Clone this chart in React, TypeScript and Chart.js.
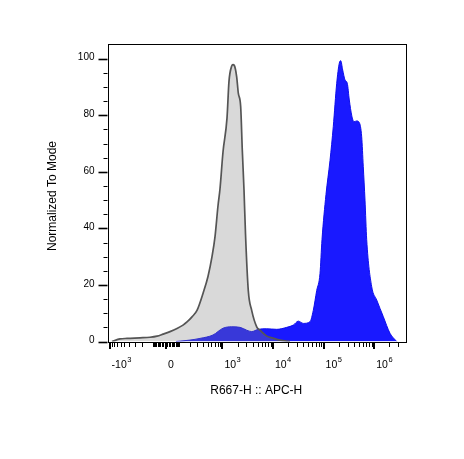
import React, { useEffect, useRef } from "react";
import { Chart, registerables } from "chart.js";

Chart.register(...registerables);

// Biexponential display: x = asinh(value / COFACTOR)
const COFACTOR = 155;
const toDisplay = (v: number) => Math.asinh(v / COFACTOR);

// Gray (control) histogram, x in display units, y = % of mode
const grayX = [-2.455, -2.091, -1.773, -1.182, -0.727, -0.409, -0.137, 0.182, 0.5, 0.773, 0.955, 1.182, 1.409, 1.682, 1.909, 2.091, 2.227, 2.364, 2.455, 2.591, 2.773, 2.863, 2.987, 3.045, 3.105, 3.213, 3.287, 3.395, 3.468, 3.546, 3.614, 3.741, 3.895, 4.123, 4.273, 4.578, 4.864, 5.181, 5.636];
const grayY = [0, 0.9, 1.1, 1.3, 1.5, 1.9, 2.6, 3.5, 4.6, 5.8, 6.9, 8.7, 11, 17, 23, 30, 37, 48, 54, 67, 79, 92, 97.4, 97.9, 97.6, 93.6, 87.8, 83, 67.7, 53.6, 38, 18, 11, 5.2, 4, 1.9, 1.2, 0.5, 0];

// Blue (stained) histogram
const blueX = [0.454, 1.091, 1.545, 2.136, 2.591, 2.987, 3.364, 3.668, 3.895, 4.195, 4.578, 5.032, 5.486, 5.786, 6.013, 6.241, 6.546, 6.695, 6.85, 7.0, 7.091, 7.273, 7.455, 7.604, 7.76, 7.877, 7.941, 8.032, 8.137, 8.241, 8.332, 8.441, 8.545, 8.668, 8.787, 8.895, 8.968, 9.046, 9.123, 9.35, 9.577, 9.877, 10.182, 10.486];
const blueY = [0, 0.5, 1.1, 2.3, 4.7, 5.2, 5, 4, 3.5, 4.3, 4.5, 4.3, 5, 5.8, 7.2, 6.4, 7, 11, 18, 24, 36, 52, 64, 76, 91.3, 98.4, 99.3, 96, 92.5, 91.3, 85.4, 80, 77.7, 78, 77.4, 72.4, 61.8, 50, 36, 19.4, 14.7, 8.8, 2.9, 0];

// Axis ticks
const xMajorValues = [-1000, 0, 1000, 10000, 100000, 1000000];
const xMajorBase = ["-10", "0", "10", "10", "10", "10"];
const xMajorExp = ["3", "", "3", "4", "5", "6"];
const yMajorValues = [0, 20, 40, 60, 80, 100];
const yMinorStep = 5;

const X_MIN = -2.659;
const X_MAX = 10.864;
const Y_MAX = 105.2;

const xTitle = "R667-H :: APC-H";
const yTitle = "Normalized To Mode";

function minorXValues(): number[] {
  const out: number[] = [];
  for (let k = 1; k <= 9; k++) {
    out.push(k * 10, -k * 10);
    out.push(k * 100, -k * 100);
  }
  for (const d of [1000, 10000, 100000, 1000000]) {
    for (let k = 2; k <= 9; k++) out.push(k * d);
  }
  return out;
}

const FONT = "'Liberation Sans', Arial, sans-serif";

const axesPlugin = {
  id: "flowAxes",
  afterDraw(chart: any) {
    const { ctx, chartArea } = chart;
    const xs = chart.scales.x;
    const ys = chart.scales.y;
    const { left, right, top, bottom } = chartArea;
    ctx.save();
    ctx.strokeStyle = "#000";
    ctx.fillStyle = "#000";
    // frame
    ctx.lineWidth = 1;
    ctx.strokeRect(Math.round(left) + 0.5, Math.round(top) + 0.5, Math.round(right - left), Math.round(bottom - top));

    // y ticks
    for (let v = 0; v <= 100; v += yMinorStep) {
      const py = Math.round(ys.getPixelForValue(v)) + 0.5;
      const major = yMajorValues.includes(v);
      ctx.lineWidth = major ? 1.6 : 1;
      ctx.beginPath();
      ctx.moveTo(left - (major ? 9 : 4), py);
      ctx.lineTo(left, py);
      ctx.stroke();
    }
    ctx.font = `10px ${FONT}`;
    ctx.textAlign = "right";
    ctx.textBaseline = "middle";
    for (const v of yMajorValues) {
      ctx.fillText(String(v), left - 13, ys.getPixelForValue(v) - 1);
    }

    // x ticks
    const b = Math.round(bottom);
    for (const v of minorXValues()) {
      const px = Math.round(xs.getPixelForValue(toDisplay(v))) + 0.5;
      if (px < left || px > right) continue;
      ctx.lineWidth = 1;
      ctx.beginPath();
      ctx.moveTo(px, b);
      ctx.lineTo(px, b + 5);
      ctx.stroke();
    }
    xMajorValues.forEach((v, i) => {
      const px = xs.getPixelForValue(toDisplay(v));
      ctx.lineWidth = 2;
      ctx.beginPath();
      ctx.moveTo(Math.round(px), b);
      ctx.lineTo(Math.round(px), b + 7);
      ctx.stroke();
      // label
      ctx.textAlign = "left";
      ctx.textBaseline = "alphabetic";
      ctx.font = `10.5px ${FONT}`;
      const base = xMajorBase[i];
      const lx = px + 2;
      ctx.fillText(base, lx, 368);
      const w = ctx.measureText(base).width;
      if (xMajorExp[i]) {
        ctx.font = `7.5px ${FONT}`;
        ctx.fillText(xMajorExp[i], lx + w + 0.5, 362);
      }
    });

    // titles
    ctx.font = `12px ${FONT}`;
    ctx.textAlign = "center";
    ctx.textBaseline = "middle";
    ctx.fillText(xTitle, (left + right) / 2, 391);
    ctx.translate(53, 196);
    ctx.rotate(-Math.PI / 2);
    ctx.fillText(yTitle, 0, 0);
    ctx.restore();
  },
};

export default function App() {
  const ref = useRef<HTMLCanvasElement>(null);
  useEffect(() => {
    if (!ref.current) return;
    const chart = new Chart(ref.current, {
      type: "line",
      data: {
        datasets: [
          {
            label: "control",
            data: grayX.map((x, i) => ({ x, y: grayY[i] })),
            borderColor: "#555555",
            borderWidth: 1.7,
            backgroundColor: "rgba(128,128,128,0.3)",
            fill: "origin",
            pointRadius: 0,
            cubicInterpolationMode: "monotone",
          },
          {
            label: "stained",
            data: blueX.map((x, i) => ({ x, y: blueY[i] })),
            borderColor: "rgb(15,15,235)",
            borderWidth: 1,
            backgroundColor: "rgb(25,25,255)",
            fill: "origin",
            pointRadius: 0,
            cubicInterpolationMode: "monotone",
          },
        ],
      },
      options: {
        animation: false,
        responsive: false,
        events: [],
        layout: { padding: { left: 107.5, top: 44, right: 59, bottom: 117.5 } },
        plugins: { legend: { display: false }, tooltip: { enabled: false } },
        scales: {
          x: { type: "linear", min: X_MIN, max: X_MAX, display: false },
          y: { type: "linear", min: 0, max: Y_MAX, display: false },
        },
      },
      plugins: [axesPlugin],
    });
    return () => chart.destroy();
  }, []);
  return (
    <div style={{ position: "absolute", left: 0, top: 0, width: 464, height: 459, background: "#fff" }}>
      <canvas ref={ref} width={464} height={459} style={{ width: 464, height: 459, display: "block" }} />
    </div>
  );
}
